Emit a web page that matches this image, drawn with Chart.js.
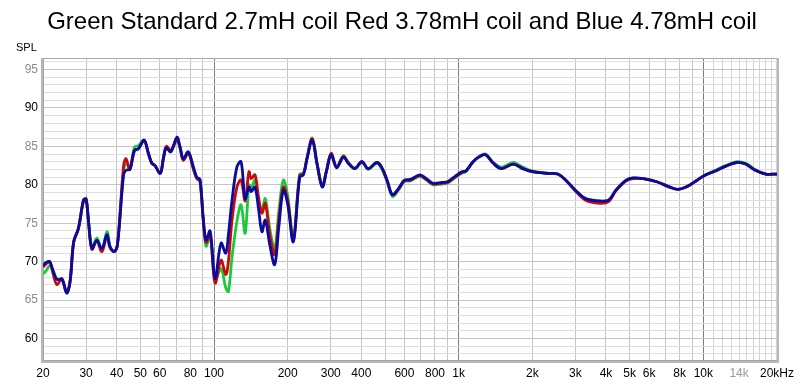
<!DOCTYPE html>
<html>
<head>
<meta charset="utf-8">
<script src="https://cdn.jsdelivr.net/npm/chart.js@4.4.0/dist/chart.umd.min.js"></script>
<style>
html,body{margin:0;padding:0;background:#fff;}
#wrap{width:800px;height:385px;position:relative;}
</style>
</head>
<body>
<div id="wrap"><canvas id="c" width="800" height="385"></canvas></div>
<script>
const titleText = "Green Standard 2.7mH coil Red 3.78mH coil and Blue 4.78mH coil";
const yAxisTitle = "SPL";

const freq = [20,20.6,21.3,22.0,22.8,23.9,25.0,25.8,26.7,27.9,29.3,30.0,30.7,31.7,33.2,34.8,36.5,37.6,39.1,40.3,
  42.7,43.7,45.3,47.3,49.1,51.8,53.9,55.7,57.4,60.3,62.1,63.8,66.6,70.5,72.7,74.9,78.5,82.4,85.0,87.6,
  90.4,92.8,96.4,101,106.8,111.7,114.5,118.3,124,129,134,139,142,147,152,157,162,169,177,184,
  192,200,211,224,232,240,252,264,277,288,301,317,338,354,377,402,427,462,484,510,
  536,567,600,636,694,738,787,852,900,966,1030,1070,1145,1222,1290,1386,1496,1670,1830,2000,
  2280,2540,2740,3000,3300,3760,4100,4390,4840,5170,5680,6450,7290,7880,8500,9330,10100,11200,12300,13700,
  14900,16300,18000,20000];

const blue = [69.5,69.9,70.0,68.8,67.7,67.7,65.9,67.4,72.6,74.3,78.0,78.1,75.2,71.7,72.8,71.7,73.5,71.9,71.3,72.2,
  81.3,81.9,82.0,84.5,84.7,85.8,84.1,82.8,82.5,81.5,83.4,84.8,84.3,86.2,84.9,83.4,84.3,82.3,81.0,80.7,
  75.6,72.8,74.0,67.8,72.4,71.1,73.5,77.8,82.3,83.0,78.2,79.7,79.1,79.7,76.9,73.9,75.4,72.2,69.6,74.5,
  79.3,77.5,72.6,81.0,81.3,83.4,85.8,82.6,79.7,81.7,83.9,82.2,83.6,82.8,82.1,83.0,82.1,82.9,82.3,80.6,
  78.7,79.5,80.6,80.7,81.3,80.8,80.2,80.3,80.4,81.1,81.7,81.8,83.0,83.7,83.9,82.8,82.1,82.7,82.1,81.7,
  81.5,81.4,80.6,79.3,78.2,77.9,78.0,79.3,80.6,80.9,80.8,80.4,79.7,79.4,79.7,80.5,81.2,81.8,82.4,82.9,
  82.7,81.9,81.4,81.4];

const red = [69.3,69.7,70.0,68.4,67.0,67.8,66.0,67.4,72.6,74.3,78.0,78.2,75.2,71.6,72.7,71.3,73.3,71.8,71.3,72.2,
  82.5,83.4,82.0,84.4,84.7,85.8,84.1,82.8,82.5,81.5,83.5,85.0,84.5,85.8,84.7,83.2,84.1,82.0,80.8,80.5,
  75.3,72.5,73.6,67.2,70.2,68.3,70.0,75.2,79.7,80.6,77.9,81.7,80.8,81.3,78.4,76.3,77.6,73.5,70.9,75.5,
  79.7,78.0,72.8,81.2,81.4,83.5,86.0,82.7,79.8,81.8,84.1,82.3,83.7,82.8,82.1,83.0,82.1,82.9,82.3,80.5,
  78.7,79.4,80.5,80.6,81.2,80.7,80.1,80.2,80.3,81.0,81.6,81.8,83.0,83.7,83.9,82.8,82.1,82.7,82.1,81.7,
  81.5,81.4,80.6,79.2,78.0,77.6,77.8,79.2,80.5,80.8,80.8,80.4,79.7,79.4,79.7,80.5,81.2,81.8,82.4,82.9,
  82.7,81.9,81.4,81.4];

const green = [68.4,68.8,69.5,68.8,67.7,67.6,65.9,67.4,72.6,74.3,78.0,78.1,75.2,71.8,73.1,71.4,73.9,72.0,71.3,72.2,
  81.8,82.8,82.1,84.9,85.1,85.8,84.1,82.8,82.5,81.5,83.4,84.8,84.3,86.0,84.8,83.3,84.2,82.1,80.9,80.6,
  75.3,72.0,73.4,67.6,69.1,66.6,66.1,70.4,75.2,77.4,73.7,80.0,79.6,80.6,77.8,76.8,78.2,74.3,71.7,76.5,
  80.6,78.6,73.0,81.4,81.5,83.5,86.1,82.7,79.8,81.8,84.0,82.4,83.8,82.9,82.2,83.0,82.0,82.8,82.1,80.4,
  78.5,79.3,80.4,80.5,81.1,80.6,80.0,80.1,80.2,80.9,81.5,81.7,83.0,83.8,84.0,82.9,82.3,82.9,82.3,81.8,
  81.5,81.4,80.6,79.3,78.2,77.9,78.0,79.3,80.6,80.9,80.8,80.4,79.7,79.4,79.7,80.5,81.2,81.9,82.5,83.0,
  82.8,82.0,81.4,81.4];

const xGrid = [20,30,40,50,60,70,80,90,100,200,300,400,500,600,700,800,900,1000,2000,3000,4000,5000,6000,7000,8000,9000,
  10000,11000,12000,13000,14000,15000,16000,17000,18000,19000,20000];
const xTickLabels = {20:'20',30:'30',40:'40',50:'50',60:'60',80:'80',100:'100',200:'200',300:'300',400:'400',600:'600',800:'800',
  1000:'1k',2000:'2k',3000:'3k',4000:'4k',5000:'5k',6000:'6k',8000:'8k',10000:'10k',14000:'14k',20000:'20kHz'};
const yGrid = [58,59,60,61,62,63,64,65,66,67,68,69,70,71,72,73,74,75,76,77,78,79,80,81,82,83,84,85,86,87,88,89,90,91,92,93,94,95,96];
const yTickLabels = {60:'60',65:'65',70:'70',75:'75',80:'80',85:'85',90:'90',95:'95'};

const FONT = '"Liberation Sans", Arial, sans-serif';

const textPlugin = {
  id: 'texts',
  afterDraw(chart) {
    const ctx = chart.ctx;
    ctx.save();
    ctx.fillStyle = '#000';
    ctx.font = '24px ' + FONT;
    ctx.textAlign = 'center';
    ctx.textBaseline = 'alphabetic';
    ctx.fillText(titleText, 402, 29);
    ctx.font = '11px ' + FONT;
    ctx.textAlign = 'left';
    ctx.fillText(yAxisTitle, 16, 51);
    ctx.restore();
  }
};

const framePlugin = {
  id: 'frame',
  beforeDatasetsDraw(chart) {
    const a = chart.chartArea, ctx = chart.ctx;
    ctx.save();
    ctx.strokeStyle = '#a8a8a8';
    ctx.lineWidth = 1;
    ctx.strokeRect(Math.round(a.left) + 0.5, Math.round(a.top) + 0.5, Math.round(a.right - a.left), Math.round(a.bottom - a.top));
    ctx.strokeStyle = '#b8b8b8';
    ctx.lineWidth = 2;
    ctx.beginPath();
    ctx.moveTo(Math.round(a.left) - 1, Math.round(a.top));
    ctx.lineTo(Math.round(a.left) - 1, Math.round(a.bottom) + 2);
    ctx.lineTo(Math.round(a.right) + 1, Math.round(a.bottom) + 2);
    ctx.lineTo(Math.round(a.right) + 1, Math.round(a.top));
    ctx.stroke();
    ctx.restore();
  }
};

const mk = (vals) => freq.map((f, i) => ({x: f, y: vals[i]}));

new Chart(document.getElementById('c'), {
  type: 'line',
  data: {
    datasets: [
      {label: 'Blue 4.78mH', data: mk(blue), borderColor: '#0a0aa0', borderWidth: 2.8, pointRadius: 0, tension: 0.35, fill: false},
      {label: 'Red 3.78mH', data: mk(red), borderColor: '#c80a0a', borderWidth: 2.8, pointRadius: 0, tension: 0.35, fill: false},
      {label: 'Green 2.7mH', data: mk(green), borderColor: '#1ec83c', borderWidth: 2.8, pointRadius: 0, tension: 0.35, fill: false}
    ]
  },
  options: {
    responsive: false,
    animation: false,
    events: [],
    layout: {padding: {top: 58, right: 22, left: 0, bottom: 0}},
    plugins: {legend: {display: false}, tooltip: {enabled: false}, title: {display: false}},
    scales: {
      x: {
        type: 'logarithmic',
        min: 20, max: 20000,
        afterBuildTicks: (s) => { s.ticks = xGrid.map(v => ({value: v})); },
        afterFit: (s) => { s.height = 25; },
        border: {display: false},
        grid: {
          color: (c) => { const v = c.tick && c.tick.value; return (v === 100 || v === 1000 || v === 10000) ? '#7c7c7c' : (v > 10000 ? '#d4d4d4' : '#c4c4c4'); },
          lineWidth: 1, drawTicks: false
        },
        ticks: {
          autoSkip: false, maxRotation: 0, minRotation: 0, padding: 6,
          font: {family: FONT, size: 12},
          color: (c) => (c.tick && c.tick.value === 14000) ? '#999999' : '#000000',
          callback: (v) => xTickLabels[v] || ''
        }
      },
      y: {
        min: 57.2, max: 96.5,
        afterBuildTicks: (s) => { s.ticks = yGrid.map(v => ({value: v})); },
        afterFit: (s) => { s.width = 43; },
        border: {display: false},
        grid: {
          color: (c) => { const v = c.tick && c.tick.value; return (v % 5 === 0) ? '#c4c4c4' : '#dedede'; },
          lineWidth: 1, drawTicks: false
        },
        ticks: {
          autoSkip: false, padding: 5,
          font: {family: FONT, size: 12},
          color: (c) => (c.tick && c.tick.value % 10 === 0) ? '#000000' : '#8c8c8c',
          callback: (v) => yTickLabels[v] || ''
        }
      }
    }
  },
  plugins: [framePlugin, textPlugin]
});
</script>
</body>
</html>
